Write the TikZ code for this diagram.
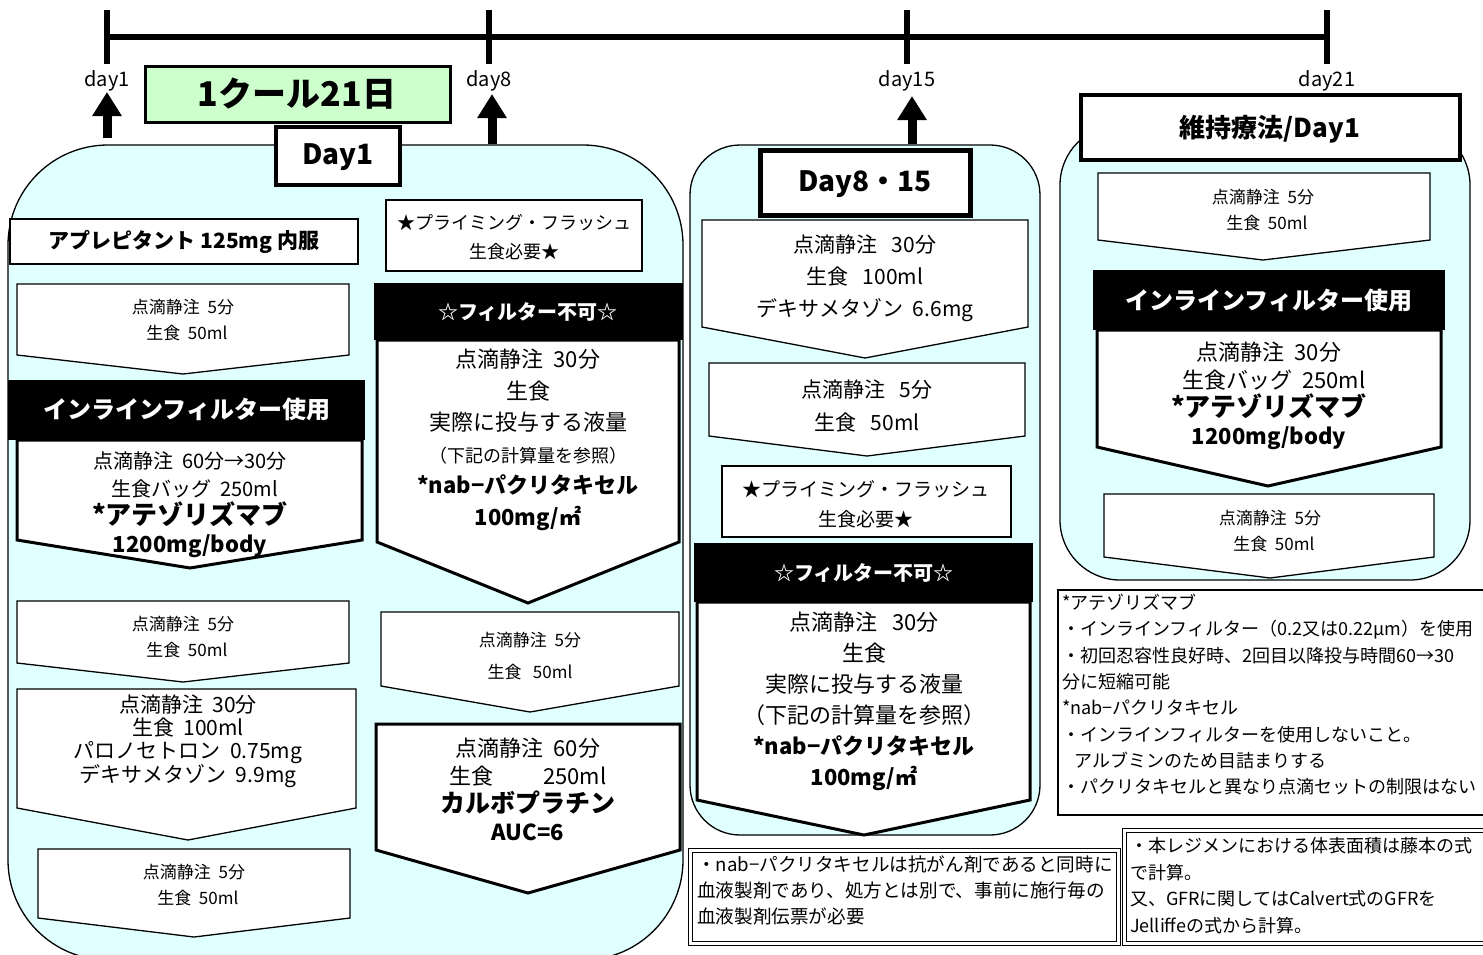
\documentclass[tikz,border=0pt]{standalone}
\usepackage{fontspec}
\setmainfont{Noto Sans CJK JP}
\usetikzlibrary{arrows.meta}
\definecolor{panelc}{RGB}{224,255,255}
\definecolor{kgreen}{RGB}{204,255,204}
\newcommand\pentdraw[7]{\draw[#1] (#2,#4) -- (#3,#4) -- (#3,#5) -- (#6,#7) -- (#2,#5) -- cycle;}
\newcommand\fs[2]{\fontsize{#1}{#2}\selectfont}
\begin{document}
\begin{tikzpicture}[x=1pt,y=-1pt,
  pent/.style={draw, fill=white, line width=1.3pt},
  pentthick/.style={draw, fill=white, line width=3pt},
  box/.style={draw, fill=white, line width=1.3pt},
  thickbox/.style={draw, fill=white, line width=4pt},
  hdr/.style={fill=black},
  t/.style={align=center, inner sep=0pt},
  tl/.style={align=left, inner sep=0pt, anchor=north west},
  tick/.style={line width=6pt},
  uparrow/.style={line width=9pt, -{Triangle[width=28pt,length=24pt]}},
  panel/.style={draw, fill=panelc, line width=1.3pt}]
\clip (0,0) rectangle (1483,954);
\fill[white] (0,0) rectangle (1483,954);

% timeline
\coordinate (tl0) at (107,37); \coordinate (tl3) at (1327,37);
\draw[tick] (tl0) -- (tl3);
\foreach \x in {107,489,907,1327} \draw[tick] (\x,10) -- (\x,64);
\node[font=\fs{20}{20}] (d1) at (107,81) {day1};
\node[font=\fs{20}{20}] (d8) at (489,81) {day8};
\node[font=\fs{20}{20}] (d15) at (907,81) {day15};
\node[font=\fs{20}{20}] (d21) at (1327,81) {day21};

% panels
\draw[panel, rounded corners=100pt] (8,145) rectangle (683,960);
\draw[panel, rounded corners=50pt] (690,145) rectangle (1040,835);
\draw[panel, rounded corners=60pt] (1060,125) rectangle (1470,580);

% arrows
\coordinate (a1s) at (107,138); \coordinate (a1e) at (107,92);
\coordinate (a8s) at (492,144); \coordinate (a8e) at (492,94);
\coordinate (a15s) at (912,144); \coordinate (a15e) at (912,96);
\draw[uparrow] (a1s) -- (a1e);
\draw[uparrow] (a8s) -- (a8e);
\draw[uparrow] (a15s) -- (a15e);

% cycle title
\draw[fill=kgreen, line width=3pt] (145,66) rectangle (450,122);
\node[t, font=\fs{34}{34}\bfseries] (cyc) at (297,94) {1クール21日};

% Day1 box
\draw[thickbox] (276,127) rectangle (400,185);
\node[t, font=\fs{28}{28}\bfseries] (day1) at (338,157) {Day1};

% ---- left column
\draw[box] (10,219) rectangle (358,264);
\node[t, font=\fs{21}{21}\bfseries] (apre) at (184,242) {アプレピタント 125mg 内服};

\pentdraw{pent}{17}{349}{284}{355}{183}{374}
\node[t, font=\fs{17}{26}] (pA) at (183,320) {点滴静注\ \ 5分\\\ \ 生食\ \ 50ml};

\fill[hdr] (8,380) rectangle (365,440);
\node[t, font=\fs{24}{24}\bfseries, text=white] (hA) at (187,409) {インラインフィルター使用};

\pentdraw{pentthick}{17}{362}{440}{540}{190}{568}
\node[t, font=\fs{20}{28}] (pB) at (190,505) {点滴静注\ \ 60分→30分\\\ \ 生食バッグ\ \ 250ml\\{\fs{26}{29}\bfseries *アテゾリズマブ}\\{\fs{22}{29}\bfseries 1200mg/body}};

\pentdraw{pent}{17}{349}{601}{663}{183}{682}
\node[t, font=\fs{17}{26}] (pC) at (183,637) {点滴静注\ \ 5分\\\ \ 生食\ \ 50ml};

\pentdraw{pent}{17}{356}{689}{808}{188}{840}
\node[t, font=\fs{21}{23}] (pD) at (188,741) {点滴静注\ \ 30分\\生食\ \ 100ml\\パロノセトロン\ \ 0.75mg\\デキサメタゾン\ \ 9.9mg};

\pentdraw{pent}{38}{350}{849}{918}{194}{937}
\node[t, font=\fs{17}{26}] (pE) at (194,885) {点滴静注\ \ 5分\\\ \ 生食\ \ 50ml};

% ---- right column of left panel
\draw[box] (386,200) rectangle (642,271);
\node[t, font=\fs{18}{29}] (prA) at (514,237) {★プライミング・フラッシュ\\生食必要★};

\fill[hdr] (374,283) rectangle (683,340);
\node[t, font=\fs{20}{20}\bfseries, text=white] (hB) at (528,312) {☆フィルター不可☆};

\pentdraw{pentthick}{377}{679}{340}{542}{528}{603}
\node[t, font=\fs{22}{31.5}] (pF) at (528,440) {点滴静注\ \ 30分\\生食\\実際に投与する液量\\{\fs{18}{31.5}（下記の計算量を参照）}\\{\bfseries *nab−パクリタキセル}\\{\bfseries 100mg/㎡}};

\pentdraw{pent}{381}{679}{612}{686}{530}{712}
\node[t, font=\fs{17}{32}] (pG) at (530,656) {点滴静注\ \ 5分\\生食\ \ \ 50ml};

\pentdraw{pentthick}{376}{680}{724}{850}{528}{893}
\node[t, font=\fs{22}{28}] (pH) at (528,789) {点滴静注\ \ 60分\\生食\hspace{50pt}250ml\\{\fs{25}{28}\bfseries カルボプラチン}\\{\bfseries AUC=6}};

% ---- middle panel
\draw[line width=5pt, fill=white] (760,150) rectangle (970,215);
\node[t, font=\fs{28}{28}\bfseries] (day815) at (865,184) {Day8・15};

\pentdraw{pent}{702}{1028}{220}{327}{865}{358}
\node[t, font=\fs{21}{32}] (pI) at (865,278) {点滴静注\ \ \ 30分\\生食\ \ \ 100ml\\デキサメタゾン\ \ 6.6mg};

\pentdraw{pent}{709}{1025}{363}{436}{867}{456}
\node[t, font=\fs{21}{33}] (pJ) at (867,406) {点滴静注\ \ \ 5分\\生食\ \ \ 50ml};

\draw[box] (722,466) rectangle (1011,537);
\node[t, font=\fs{19}{30}] (prB) at (866,504) {★プライミング・フラッシュ\\生食必要★};

\fill[hdr] (694,543) rectangle (1033,602);
\node[t, font=\fs{20}{20}\bfseries, text=white] (hC) at (864,573) {☆フィルター不可☆};

\pentdraw{pentthick}{697}{1030}{602}{800}{864}{835}
\node[t, font=\fs{22}{31}] (pK) at (864,701) {点滴静注\ \ \ 30分\\生食\\実際に投与する液量\\（下記の計算量を参照）\\{\bfseries *nab−パクリタキセル}\\{\bfseries 100mg/㎡}};

% ---- right panel
\draw[thickbox] (1081,95) rectangle (1460,160);
\node[t, font=\fs{26}{26}\bfseries] (maint) at (1270,129) {維持療法/Day1};

\pentdraw{pent}{1098}{1430}{173}{240}{1263}{260}
\node[t, font=\fs{17}{26}] (pL) at (1263,210) {点滴静注\ \ 5分\\\ \ 生食\ \ 50ml};

\fill[hdr] (1093,270) rectangle (1445,330);
\node[t, font=\fs{24}{24}\bfseries, text=white] (hD) at (1269,300) {インラインフィルター使用};

\pentdraw{pentthick}{1097}{1441}{330}{447}{1268}{486}
\node[t, font=\fs{22}{28}] (pM) at (1269,396) {点滴静注\ \ 30分\\\ \ 生食バッグ\ \ 250ml\\{\fs{26}{28}\bfseries *アテゾリズマブ}\\{\bfseries 1200mg/body}};

\pentdraw{pent}{1104}{1434}{494}{557}{1270}{578}
\node[t, font=\fs{17}{26}] (pN) at (1270,531) {点滴静注\ \ 5分\\\ \ 生食\ \ 50ml};

% ---- notes
\draw[line width=1.3pt, fill=white] (1058,590) rectangle (1495,815);
\node[tl, font=\fs{18}{26.3}] (n1) at (1062,594) {*アテゾリズマブ\\・インラインフィルター（0.2又は0.22μm）を使用\\・初回忍容性良好時、2回目以降投与時間60→30\\分に短縮可能\\*nab−パクリタキセル\\・インラインフィルターを使用しないこと。\\\ \ \ アルブミンのため目詰まりする\\・パクリタキセルと異なり点滴セットの制限はない};

\draw[line width=1pt, fill=white] (688,848) rectangle (1120,945);
\draw[line width=1pt] (692,852) rectangle (1116,941);
\node[tl, font=\fs{18.6}{26}] (n2) at (697,856) {・nab−パクリタキセルは抗がん剤であると同時に\\血液製剤であり、処方とは別で、事前に施行毎の\\血液製剤伝票が必要};

\draw[line width=1pt, fill=white] (1122,828) rectangle (1495,945);
\draw[line width=1pt] (1126,832) rectangle (1495,941);
\node[tl, font=\fs{18}{26.7}] (n3) at (1130,837) {・本レジメンにおける体表面積は藤本の式\\で計算。\\又、GFRに関してはCalvert式のGFRを\\Jelliffeの式から計算。};
\end{tikzpicture}
\end{document}
